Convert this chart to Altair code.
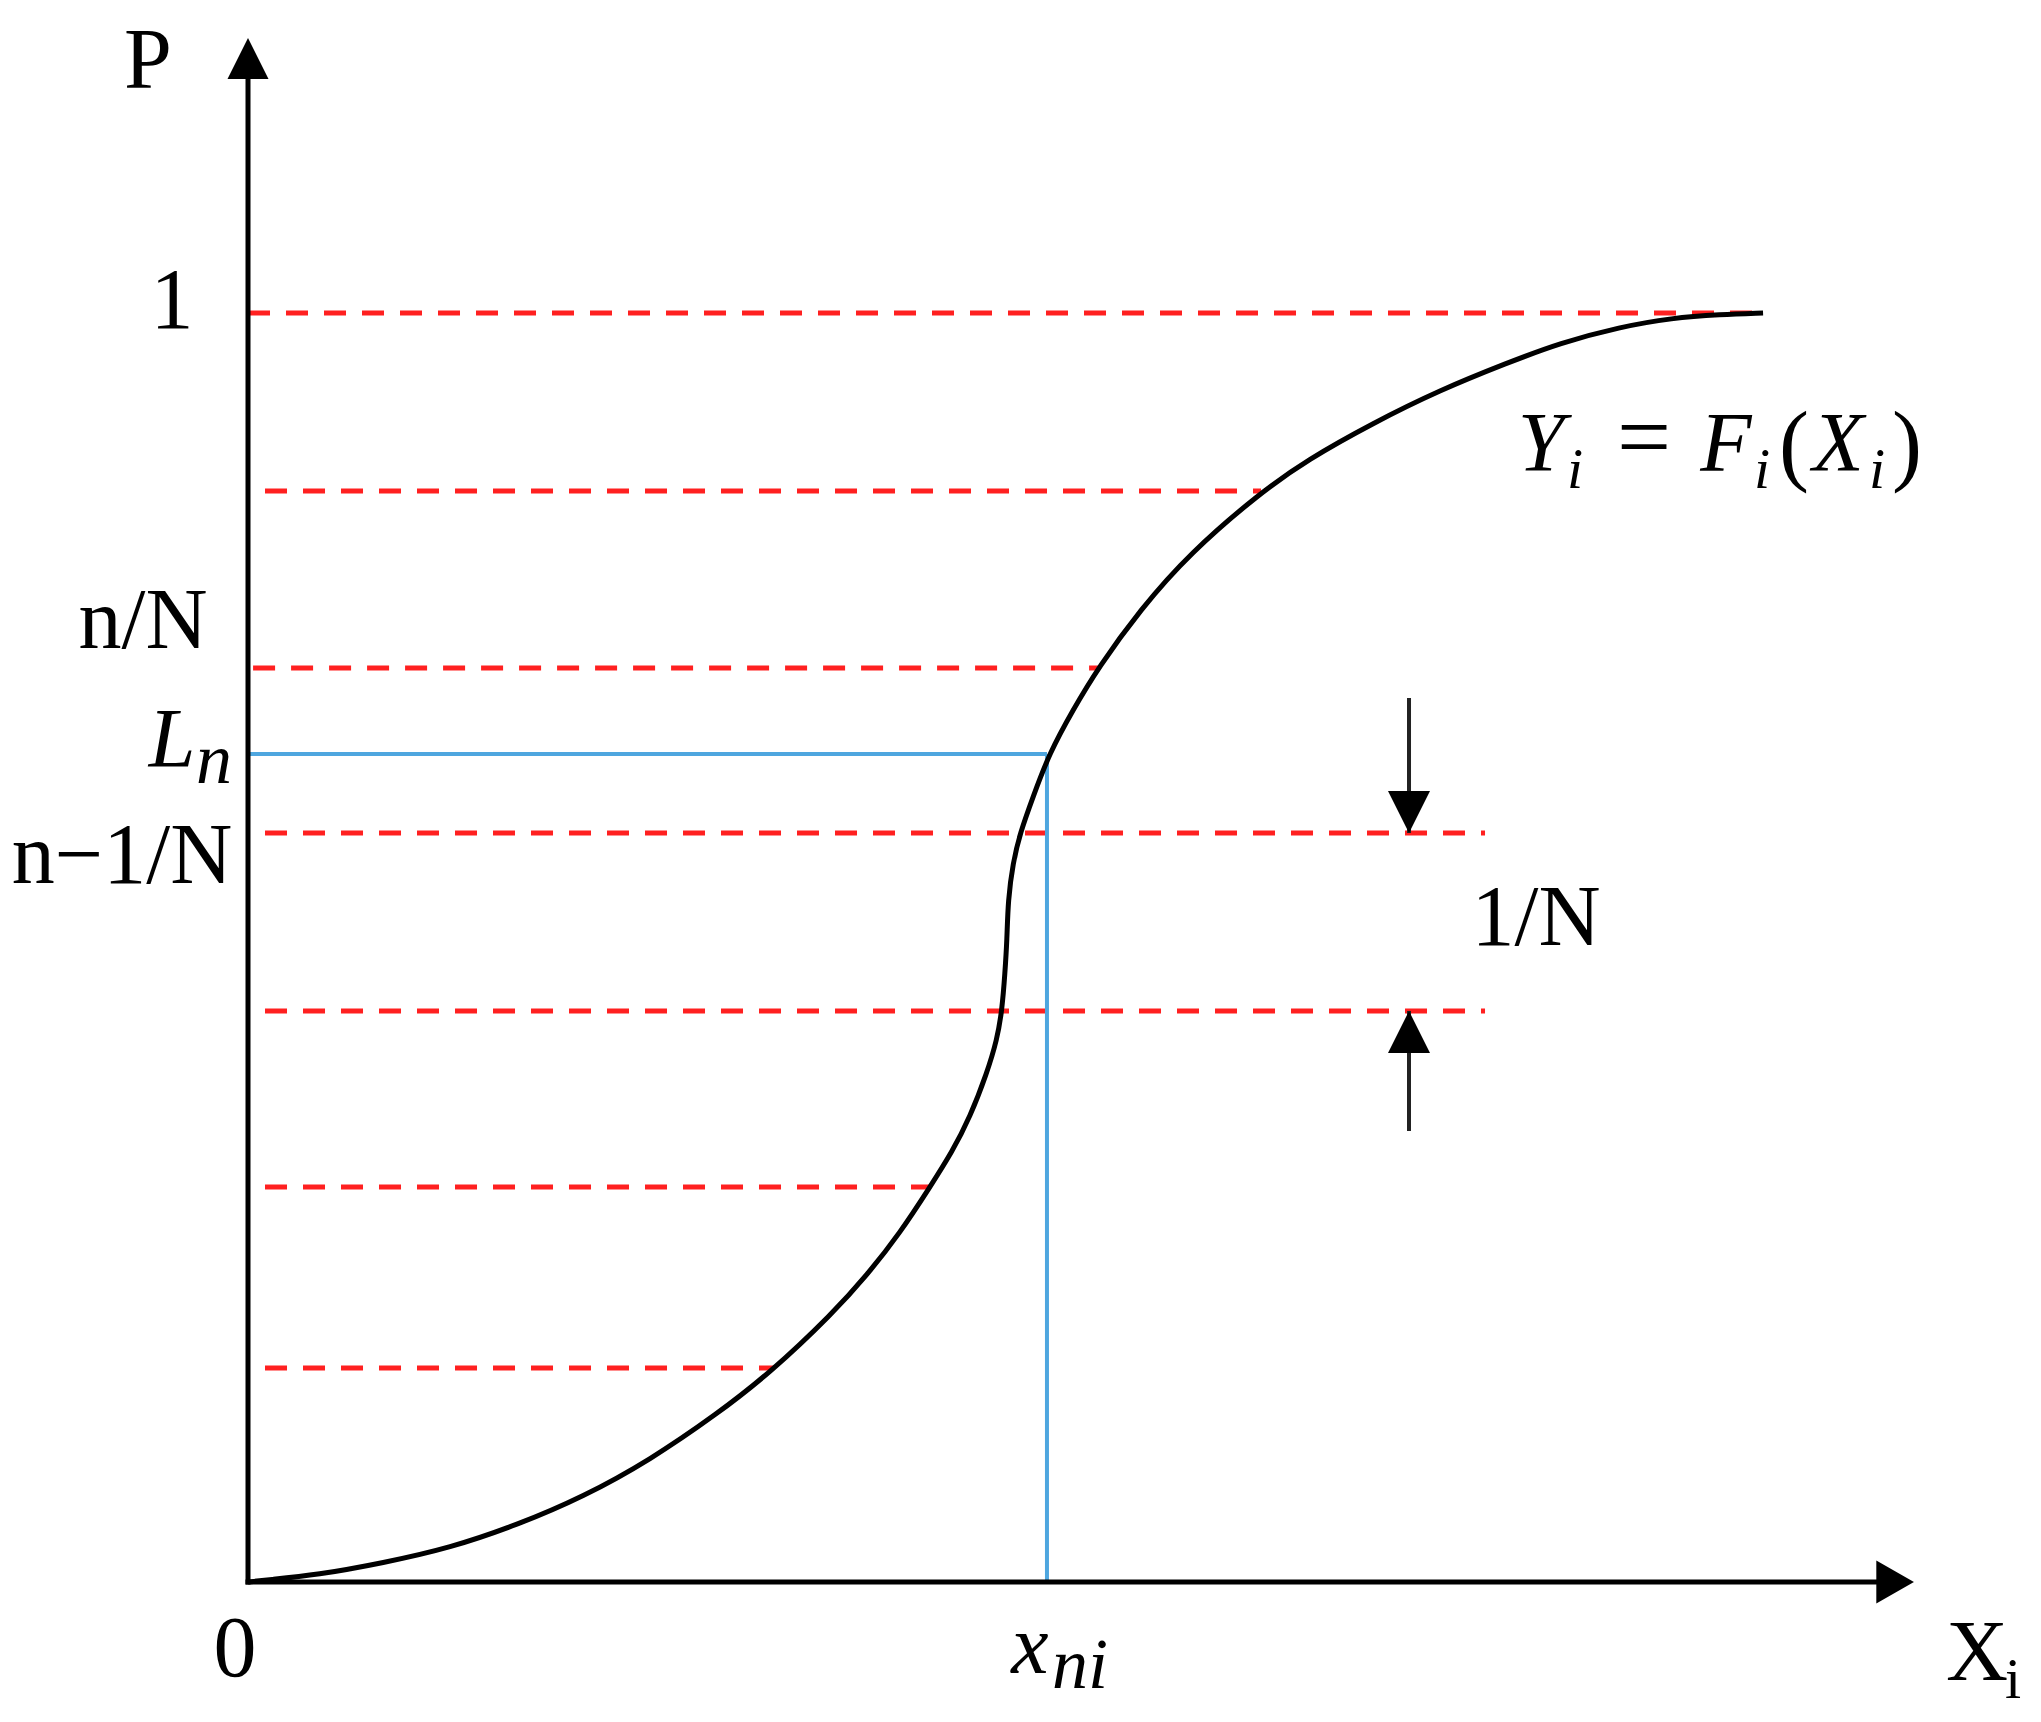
import altair as alt
import pandas as pd

# ---- diagram values (x in diagram units, P = probability) ----
curve_x = [0.0, 0.0150, 0.0544, 0.1064, 0.1592, 0.2120, 0.2640, 0.3168, 0.3696, 0.4113,
           0.4610, 0.4878, 0.5138, 0.5374, 0.5548, 0.5690, 0.5823, 0.5902, 0.5942, 0.5965,
           0.5981, 0.5989, 0.6028, 0.6084, 0.6186, 0.6312, 0.6501, 0.6698, 0.7029, 0.7423,
           0.7975, 0.8345, 0.8865, 0.9393, 0.9921, 1.0339, 1.0812, 1.1222, 1.1600, 1.1939]
curve_p = [0.0, 0.0016, 0.0055, 0.0150, 0.0268, 0.0449, 0.0670, 0.0961, 0.1324, 0.1647,
           0.2120, 0.2419, 0.2750, 0.3113, 0.3388, 0.3664, 0.4011, 0.4271, 0.4507, 0.4799,
           0.5059, 0.5374, 0.5666, 0.5902, 0.6186, 0.6525, 0.6872, 0.7202, 0.7660, 0.8109,
           0.8582, 0.8842, 0.9133, 0.9393, 0.9606, 0.9764, 0.9890, 0.9961, 0.9988, 1.0]

level_p = [1.0, 0.8597, 0.7203, 0.5902, 0.4500, 0.3113, 0.1686]
level_x_start = [0.0, 0.0134, 0.0040, 0.0134, 0.0134, 0.0134, 0.0134]
level_x_end = [1.1939, 0.7983, 0.6706, 0.9748, 0.9748, 0.5374, 0.4145]

ln_value = 0.6525
xni_value = 0.6296

gap_arrow_x = 0.9149
gap_upper = 0.5902
gap_lower = 0.4500
gap_arrow_top = 0.6966
gap_arrow_bottom = 0.3554

axis_y_tip = 1.2167
axis_x_tip = 1.3128
head_len = 0.03

# labels (anchor in diagram units)
up_text = ["P", "1", "n/N", "n\u22121/N", "0", "1/N", "X"]
up_x = [-0.0788, -0.0599, -0.0827, -0.0993, -0.0102, 1.0150, 1.3625]
up_p = [1.1773, 0.9882, 0.7360, 0.5508, -0.0741, 0.5020, -0.0772]

eq_text = ["="]
eq_x = [1.1001]
eq_p = [0.8771]

paren_text = ["(", ")"]
paren_x = [1.2183, 1.3073]
paren_p = [0.8731, 0.8731]

it_text = ["Y", "F", "X", "L", "x"]
it_x = [1.0189, 1.1647, 1.2530, -0.0599, 0.6162]
it_p = [0.8755, 0.8755, 0.8755, 0.6422, -0.0717]

itsub_text = ["n", "ni"]
itsub_x = [-0.0268, 0.6556]
itsub_p = [0.6296, -0.0835]

isub_text = ["i", "i", "i"]
isub_x = [1.0457, 1.1931, 1.2837]
isub_p = [0.8621, 0.8621, 0.8621]

usub_text = ["i"]
usub_x = [1.3909]
usub_p = [-0.0914]

X_DOMAIN = [-0.18913, 1.40662]
P_DOMAIN = [-0.10402, 1.24035]

xs = alt.Scale(domain=X_DOMAIN, nice=False, zero=False)
ps = alt.Scale(domain=P_DOMAIN, nice=False, zero=False)


def XE(f):
    return alt.X(f, type="quantitative", scale=xs, axis=None)


def YE(f):
    return alt.Y(f, type="quantitative", scale=ps, axis=None)


FONT = "Liberation Serif"

curve_df = pd.DataFrame({"x": curve_x, "p": curve_p, "i": list(range(len(curve_x)))})
curve = alt.Chart(curve_df).mark_line(color="black", strokeWidth=5, interpolate="basis").encode(
    x=XE("x"), y=YE("p"), order=alt.Order("i:Q"))

lev_df = pd.DataFrame({"x0": level_x_start, "x1": level_x_end, "p": level_p})
levels = alt.Chart(lev_df).mark_rule(color="#ff2020", strokeWidth=5, strokeDash=[22, 16]).encode(
    x=XE("x0"), x2="x1", y=YE("p"))

blue_df = pd.DataFrame({"x0": [0.0, xni_value], "x1": [xni_value, xni_value],
                        "p0": [ln_value, 0.0], "p1": [ln_value, ln_value]})
blue = alt.Chart(blue_df).mark_rule(color="#4ea6df", strokeWidth=4).encode(
    x=XE("x0"), x2="x1", y=YE("p0"), y2="p1")

axes_df = pd.DataFrame({"x0": [0.0, 0.0], "x1": [0.0, axis_x_tip - head_len],
                        "p0": [0.0, 0.0], "p1": [axis_y_tip - head_len, 0.0]})
axes = alt.Chart(axes_df).mark_rule(color="black", strokeWidth=5, strokeCap="square").encode(
    x=XE("x0"), x2="x1", y=YE("p0"), y2="p1")

shaft_df = pd.DataFrame({"x": [gap_arrow_x, gap_arrow_x], "p0": [gap_arrow_top, gap_arrow_bottom],
                         "p1": [gap_upper, gap_lower]})
shafts = alt.Chart(shaft_df).mark_rule(color="#222222", strokeWidth=4).encode(
    x=XE("x"), y=YE("p0"), y2="p1")


def head(x, p, path, size):
    df = pd.DataFrame({"x": [x], "p": [p]})
    return alt.Chart(df).mark_point(shape=path, filled=True, size=size, color="black",
                                    opacity=1, strokeWidth=0).encode(x=XE("x"), y=YE("p"))


heads = [
    head(0.0, axis_y_tip, "M0,0L1,2L-1,2Z", 1681),
    head(axis_x_tip, 0.0, "M0,0L-1.75,-1L-1.75,1Z", 1849),
    head(gap_arrow_x, gap_upper, "M0,0L-1,-2L1,-2Z", 1764),
    head(gap_arrow_x, gap_lower, "M0,0L-1,2L1,2Z", 1764),
]


def text_layer(texts, xv, pv, size, style):
    df = pd.DataFrame({"t": texts, "x": xv, "p": pv})
    return alt.Chart(df).mark_text(font=FONT, fontSize=size, fontStyle=style, align="center",
                                   baseline="alphabetic", color="black").encode(
        x=XE("x"), y=YE("p"), text="t:N")


texts = [
    text_layer(up_text, up_x, up_p, 86, "normal"),
    text_layer(eq_text, eq_x, eq_p, 96, "normal"),
    text_layer(paren_text, paren_x, paren_p, 90, "normal"),
    text_layer(it_text, it_x, it_p, 84, "italic"),
    text_layer(itsub_text, itsub_x, itsub_p, 72, "italic"),
    text_layer(isub_text, isub_x, isub_p, 58, "italic"),
    text_layer(usub_text, usub_x, usub_p, 58, "normal"),
]

chart = alt.layer(levels, blue, curve, axes, shafts, *heads, *texts).properties(
    width=2025, height=1706, padding=0,
    autosize=alt.AutoSizeParams(type="none"),
    background="white",
).configure_view(strokeWidth=0)

chart.save("out.html", embed_options={"renderer": "svg", "actions": False})
